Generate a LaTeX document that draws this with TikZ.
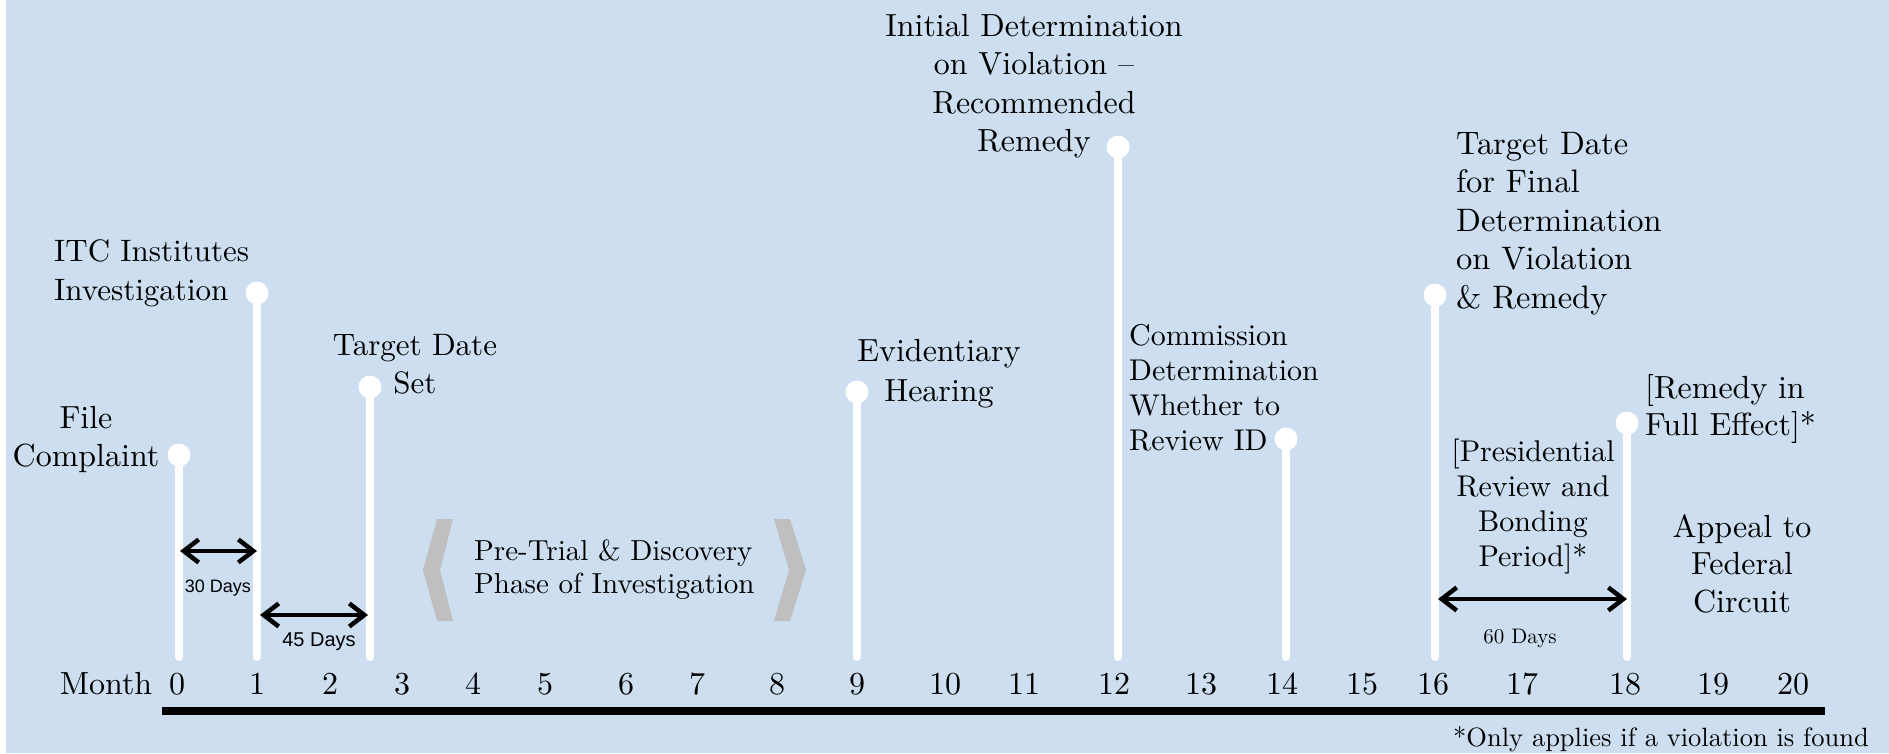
\documentclass[tikz,border=0pt]{standalone}
\usepackage{fontspec}
\setmainfont{lmroman10-regular.otf}[BoldFont=lmroman10-bold.otf, ItalicFont=lmroman10-italic.otf]
\setsansfont{Liberation Sans}
\usetikzlibrary{arrows.meta,positioning}
\definecolor{bgblue}{RGB}{204,222,240}
\definecolor{chevgray}{RGB}{191,191,191}

\begin{document}
\begin{tikzpicture}[
    x=1pt, y=-1pt,
    stem/.style={draw=white, line width=8pt, line cap=round},
    dot/.style={circle, fill=white, minimum size=23pt, inner sep=0pt},
    lbl/.style={inner sep=0pt, align=center, font=\fontsize{32}{38.5}\selectfont},
    lbll/.style={lbl, align=left},
    gap/.style={draw=black, line width=4.5pt, arrows={Straight Barb[length=15pt,width=23pt]-Straight Barb[length=15pt,width=23pt]}},
    days/.style={inner sep=0pt, font=\sffamily\fontsize{18}{20}\selectfont},
    chev/.style={fill=chevgray}
]
    % Background
    \fill[white] (0,0) rectangle (1889,753);
    \fill[bgblue] (6,0) rectangle (1889,753);
    \useasboundingbox (0,0) rectangle (1889,753);

    % Milestones
    \foreach \n/\x/\y in {0/179/455, 1/257/293, 2/370/387, 9/857/392, 12/1118/147, 14/1286/439, 16/1435/295, 18/1627/423} {
        \coordinate (b\n) at (\x,657);
        \node[dot] (d\n) at (\x,\y) {};
        \draw[stem] (d\n.center) -- (b\n);
    }

    % Milestone labels
    \node[lbl, anchor=north] (file) at (86,406) {File\\Complaint};
    \node[lbll, anchor=north west, font=\fontsize{31}{39}\selectfont] (itc) at (54,239) {ITC Institutes\\Investigation};
    \node[lbl, anchor=north, font=\fontsize{31}{38}\selectfont] (tds) at (415,334) {Target Date\\Set};
    \node[lbl, anchor=north, font=\fontsize{32}{40}\selectfont] (hear) at (939,339) {Evidentiary\\Hearing};
    \node[lbl, anchor=north] (idet) at (1034,14) {Initial Determination\\on Violation --\\Recommended\\Remedy};
    \node[lbll, anchor=north west, font=\fontsize{30}{35}\selectfont] (comm) at (1129,324) {Commission\\Determination\\Whether to\\Review ID};
    \node[lbll, anchor=north west, font=\fontsize{32.5}{38.5}\selectfont] (final) at (1456,132) {Target Date\\for Final\\Determination\\on Violation\\\& Remedy};
    \node[lbll, anchor=north west, font=\fontsize{32}{37}\selectfont] (full) at (1645,374) {[Remedy in\\Full Effect]*};
    \node[lbl, anchor=north, font=\fontsize{30}{35}\selectfont] (pres) at (1533,439) {[Presidential\\Review and\\Bonding\\Period]*};
    \node[lbl, anchor=north, font=\fontsize{32}{37.5}\selectfont] (appeal) at (1742,514) {Appeal to\\Federal\\Circuit};

    % Pre-trial phase
    \fill[chev] (437,519) -- (453,519) -- (440,570) -- (453,621) -- (437,621) -- (423,570) -- cycle;
    \fill[chev] (790,519) -- (774,519) -- (789,570) -- (774,621) -- (790,621) -- (806,570) -- cycle;
    \node[lbll, anchor=north west, font=\fontsize{29}{33}\selectfont] (pre) at (474,540) {Pre-Trial \& Discovery\\Phase of Investigation};

    % Intervals
    \coordinate (g30a) at (180,551);
    \coordinate (g30b) at (257,551);
    \draw[gap] (g30a) -- (g30b);
    \node[days] (t30) at (218,588) {30 Days};
    \coordinate (g45a) at (260,615);
    \coordinate (g45b) at (368,615);
    \draw[gap] (g45a) -- (g45b);
    \node[days, font=\sffamily\fontsize{20}{22}\selectfont] (t45) at (319,642) {45 Days};
    \coordinate (g60a) at (1438,599);
    \coordinate (g60b) at (1627,599);
    \draw[gap] (g60a) -- (g60b);
    \node[inner sep=0pt, font=\fontsize{21}{23}\selectfont] (t60) at (1520,638) {60 Days};

    % Month axis
    \node[lbl, anchor=base] (month) at (106,694) {Month};
    \foreach \m/\x in {0/177,1/257,2/330,3/402,4/473,5/545,6/626,7/697,8/777,9/857,10/945,11/1024,12/1114,13/1201,14/1282,15/1362,16/1433,17/1522,18/1625,19/1713,20/1793}
        \node[lbl, anchor=base] (m\m) at (\x,694) {\m};
    \coordinate (ax0) at (162,711);
    \coordinate (ax1) at (1825,711);
    \draw[line width=8pt] (ax0) -- (ax1);
    \node[inner sep=0pt, anchor=base west, font=\fontsize{26.5}{30}\selectfont] (note) at (1453,746) {*Only applies if a violation is found};
\end{tikzpicture}
\end{document}
